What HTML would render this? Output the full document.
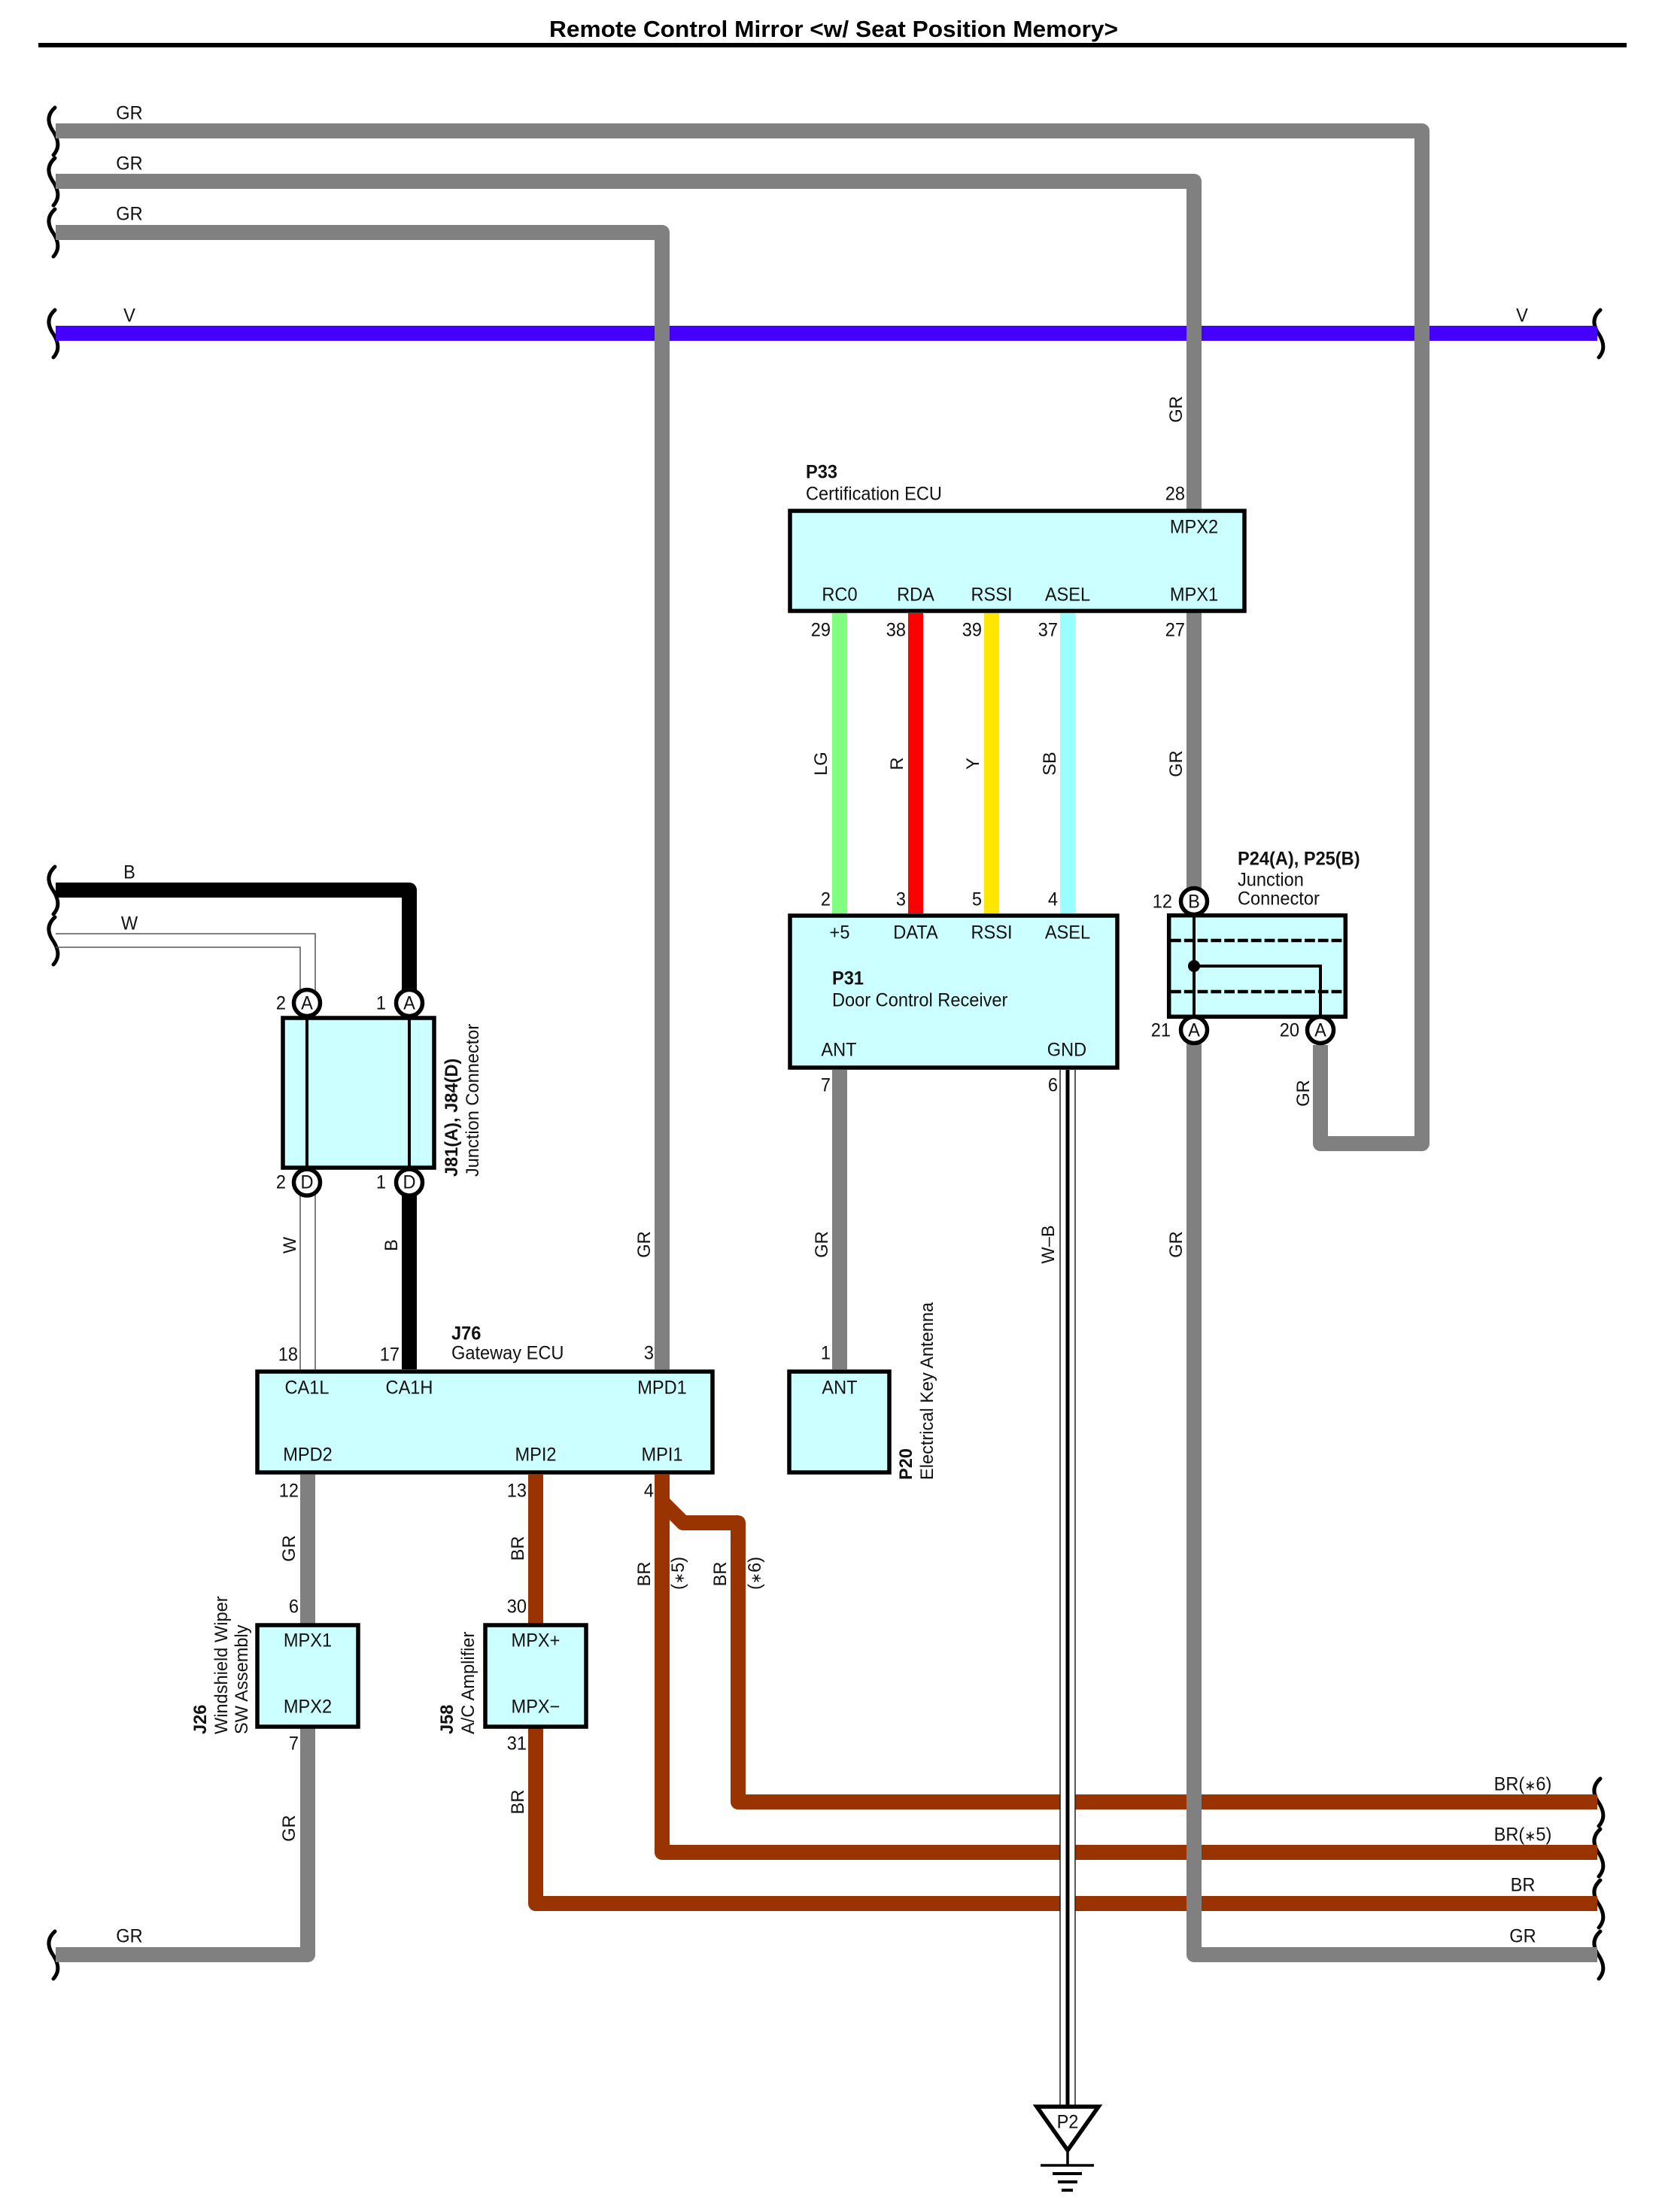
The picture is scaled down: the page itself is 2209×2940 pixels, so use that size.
<!DOCTYPE html>
<html><head><meta charset="utf-8"><title>Remote Control Mirror</title>
<style>
html,body{margin:0;padding:0;background:#fff}
svg{display:block}
text{font-family:"Liberation Sans",sans-serif;font-size:23.6px;fill:#111}
text:not([transform]):not(.t){transform-box:fill-box;transform-origin:center;transform:translateY(-1px) scaleY(1.05)}
.t{font-size:31px;font-weight:bold;fill:#000}
.b{font-weight:bold}
.m{text-anchor:middle}
.e{text-anchor:end}
.w{fill:none;stroke-width:20;stroke-linejoin:round}
.gr{stroke:#808080}
.br{stroke:#993300}
.box{fill:#ccffff;stroke:#000;stroke-width:5.5;stroke-linejoin:miter}
.c{fill:#fff;stroke:#000;stroke-width:5.5}
.s{fill:none;stroke:#000;stroke-width:5;stroke-linecap:round}
</style></head><body>
<svg xmlns="http://www.w3.org/2000/svg" width="2209" height="2940" viewBox="0 0 2209 2940">
<defs><path id="sq" class="s" d="M3,-31 C-7,-22 -7,-12 -1,-2 C6,8 9,18 5,26 C4,28 3,30 1,32"/></defs>
<rect width="2209" height="2940" fill="#fff"/>

<text x="730" y="49" class="t" textLength="756" lengthAdjust="spacingAndGlyphs">Remote Control Mirror &lt;w/ Seat Position Memory&gt;</text>
<rect x="51" y="57" width="2111" height="6" fill="#000"/>

<!-- squiggles -->
<use href="#sq" x="70" y="174"/><use href="#sq" x="70" y="241"/><use href="#sq" x="70" y="309"/><use href="#sq" x="70" y="443"/>
<use href="#sq" x="70" y="1183"/><use href="#sq" x="70" y="1250"/><use href="#sq" x="70" y="2598"/>
<use href="#sq" x="2124" y="443"/><use href="#sq" x="2124" y="2395"/><use href="#sq" x="2124" y="2462"/><use href="#sq" x="2124" y="2530"/><use href="#sq" x="2124" y="2598"/>

<!-- wires -->
<path class="w" stroke="#4400ff" d="M74,443H2123"/>
<path class="w br" d="M712,1960V2530H2123"/>
<path class="w br" d="M880,1960V2462H2123"/>
<path class="w br" d="M880,1996L908,2024H981V2395H2123"/>
<path class="w gr" d="M74,174H1890V1520H1755V1389"/>
<path class="w gr" d="M74,241H1587V2598H2123"/>
<path class="w gr" d="M74,309H880V1820"/>
<path class="w gr" d="M74,2598H409V1960"/>
<path class="w" stroke="#000" d="M74,1183H544V1820"/>
<path class="w" stroke="#80ff80" d="M1116,815V1214"/>
<path class="w" stroke="#ff0000" d="M1217,815V1214"/>
<path class="w" stroke="#ffe600" d="M1318,815V1214"/>
<path class="w" stroke="#99ffff" d="M1419,815V1214"/>
<path class="w gr" d="M1116,1422V1820"/>
<!-- W wires -->
<path fill="none" stroke="#555" stroke-width="1.5" d="M74,1241H419V1320M74,1259H399V1320M399,1585V1820M419,1585V1820"/>
<!-- W-B -->
<rect x="1409" y="1422" width="20" height="1378" fill="#fff"/>
<path fill="none" stroke="#222" stroke-width="1.5" d="M1409,1422V2800M1429,1422V2800"/>
<rect x="1416.5" y="1422" width="5" height="1378" fill="#000"/>

<!-- boxes -->
<rect class="box" x="1050" y="679" width="604" height="133"/>
<rect class="box" x="1050" y="1217" width="435" height="202"/>
<rect class="box" x="1553.7" y="1216.7" width="234.6" height="134.6"/>
<rect class="box" x="376" y="1353" width="201" height="199"/>
<rect class="box" x="342" y="1823" width="605" height="134"/>
<rect class="box" x="1049" y="1823" width="133" height="134"/>
<rect class="box" x="342" y="2160" width="134" height="135"/>
<rect class="box" x="645" y="2160" width="134" height="135"/>

<!-- junction internals -->
<path stroke="#000" stroke-width="4" fill="none" d="M408,1353V1552M544,1353V1552"/>
<path stroke="#000" stroke-width="4" fill="none" d="M1587,1217V1351M1587,1284H1755V1351"/>
<path stroke="#000" stroke-width="4.5" fill="none" stroke-dasharray="13.8 4" d="M1556,1250H1786M1556,1318H1786"/>
<circle cx="1587" cy="1284" r="8" fill="#000"/>

<!-- connector circles -->
<circle class="c" cx="408" cy="1333" r="17.5"/><circle class="c" cx="544" cy="1333" r="17.5"/>
<circle class="c" cx="408" cy="1571.5" r="17.5"/><circle class="c" cx="544" cy="1571.5" r="17.5"/>
<circle class="c" cx="1587" cy="1198" r="17.5"/><circle class="c" cx="1587" cy="1369" r="17.5"/><circle class="c" cx="1755" cy="1369" r="17.5"/>
<text x="408" y="1342" class="m">A</text><text x="544" y="1342" class="m">A</text>
<text x="408" y="1580" class="m">D</text><text x="544" y="1580" class="m">D</text>
<text x="1587" y="1207" class="m">B</text><text x="1587" y="1378" class="m">A</text><text x="1755" y="1378" class="m">A</text>

<!-- ground -->
<path d="M1378,2800H1460L1419,2858Z" fill="#fff" stroke="#000" stroke-width="5.5" stroke-linejoin="miter"/>
<path stroke="#000" stroke-width="3.5" fill="none" d="M1419,2858V2878M1383,2878H1454"/>
<path stroke="#000" stroke-width="4" fill="none" d="M1399,2889H1438M1406,2900H1432M1411,2911H1426"/>
<text x="1419" y="2829" class="m">P2</text>

<!-- horizontal wire labels -->
<text x="172" y="159" class="m">GR</text><text x="172" y="226" class="m">GR</text><text x="172" y="293" class="m">GR</text>
<text x="172" y="428" class="m">V</text><text x="2023" y="428" class="m">V</text>
<text x="172" y="1168" class="m">B</text><text x="172" y="1236" class="m">W</text>
<text x="172" y="2582" class="m">GR</text>
<text x="2024" y="2380" class="m">BR(<tspan style="font-size:18px">∗</tspan>6)</text><text x="2024" y="2447" class="m">BR(<tspan style="font-size:18px">∗</tspan>5)</text><text x="2024" y="2514" class="m">BR</text><text x="2024" y="2582" class="m">GR</text>

<!-- P33 -->
<text x="1071" y="636" class="b">P33</text><text x="1071" y="665">Certification ECU</text>
<text x="1575" y="665" class="e">28</text>
<text x="1587" y="709" class="m">MPX2</text>
<text x="1116" y="799" class="m">RC0</text><text x="1217" y="799" class="m">RDA</text><text x="1318" y="799" class="m">RSSI</text><text x="1419" y="799" class="m">ASEL</text><text x="1587" y="799" class="m">MPX1</text>
<text x="1104" y="846" class="e">29</text><text x="1204" y="846" class="e">38</text><text x="1305" y="846" class="e">39</text><text x="1406" y="846" class="e">37</text><text x="1575" y="846" class="e">27</text>

<!-- P31 -->
<text x="1104" y="1204" class="e">2</text><text x="1204" y="1204" class="e">3</text><text x="1305" y="1204" class="e">5</text><text x="1406" y="1204" class="e">4</text>
<text x="1116" y="1248" class="m">+5</text><text x="1217" y="1248" class="m">DATA</text><text x="1318" y="1248" class="m">RSSI</text><text x="1419" y="1248" class="m">ASEL</text>
<text x="1106" y="1309" class="b">P31</text><text x="1106" y="1338">Door Control Receiver</text>
<text x="1115" y="1404" class="m">ANT</text><text x="1418" y="1404" class="m">GND</text>
<text x="1104" y="1451" class="e">7</text><text x="1406" y="1451" class="e">6</text>

<!-- P24 -->
<text x="1645" y="1150" class="b">P24(A), P25(B)</text><text x="1645" y="1178">Junction</text><text x="1645" y="1203">Connector</text>
<text x="1558" y="1207" class="e">12</text><text x="1556" y="1378" class="e">21</text><text x="1727" y="1378" class="e">20</text>

<!-- J81 -->
<text x="380" y="1342" class="e">2</text><text x="513" y="1342" class="e">1</text>
<text x="380" y="1580" class="e">2</text><text x="513" y="1580" class="e">1</text>
<text transform="translate(608,1564) rotate(-90)" class="b">J81(A), J84(D)</text>
<text transform="translate(636,1564) rotate(-90)">Junction Connector</text>

<!-- J76 -->
<text x="600" y="1781" class="b">J76</text><text x="600" y="1807">Gateway ECU</text>
<text x="396" y="1809" class="e">18</text><text x="531" y="1809" class="e">17</text><text x="869" y="1807" class="e">3</text><text x="1104" y="1807" class="e">1</text>
<text x="408" y="1853" class="m">CA1L</text><text x="544" y="1853" class="m">CA1H</text><text x="880" y="1853" class="m">MPD1</text><text x="1116" y="1853" class="m">ANT</text>
<text x="409" y="1942" class="m">MPD2</text><text x="712" y="1942" class="m">MPI2</text><text x="880" y="1942" class="m">MPI1</text>
<text x="397" y="1990" class="e">12</text><text x="700" y="1990" class="e">13</text><text x="869" y="1990" class="e">4</text>

<!-- J26 / J58 -->
<text x="397" y="2144" class="e">6</text><text x="700" y="2144" class="e">30</text>
<text x="409" y="2189" class="m">MPX1</text><text x="712" y="2189" class="m">MPX+</text>
<text x="409" y="2277" class="m">MPX2</text><text x="712" y="2277" class="m">MPX−</text>
<text x="397" y="2326" class="e">7</text><text x="700" y="2326" class="e">31</text>
<text transform="translate(274,2305) rotate(-90)" class="b">J26</text>
<text transform="translate(302,2305) rotate(-90)">Windshield Wiper</text>
<text transform="translate(329,2305) rotate(-90)">SW Assembly</text>
<text transform="translate(602,2305) rotate(-90)" class="b">J58</text>
<text transform="translate(630,2305) rotate(-90)">A/C Amplifier</text>
<text transform="translate(1212,1967) rotate(-90)" class="b">P20</text>
<text transform="translate(1240,1967) rotate(-90)">Electrical Key Antenna</text>

<!-- vertical wire labels -->
<text transform="translate(1571,544) rotate(-90)" class="m">GR</text>
<text transform="translate(1099,1015) rotate(-90)" class="m">LG</text>
<text transform="translate(1200,1015) rotate(-90)" class="m">R</text>
<text transform="translate(1301,1015) rotate(-90)" class="m">Y</text>
<text transform="translate(1403,1015) rotate(-90)" class="m">SB</text>
<text transform="translate(1571,1015) rotate(-90)" class="m">GR</text>
<text transform="translate(1740,1453) rotate(-90)" class="m">GR</text>
<text transform="translate(393,1655) rotate(-90)" class="m">W</text>
<text transform="translate(528,1655) rotate(-90)" class="m">B</text>
<text transform="translate(864,1654) rotate(-90)" class="m">GR</text>
<text transform="translate(1100,1654) rotate(-90)" class="m">GR</text>
<text transform="translate(1401,1654) rotate(-90)" class="m">W–B</text>
<text transform="translate(1571,1654) rotate(-90)" class="m">GR</text>
<text transform="translate(392,2058) rotate(-90)" class="m">GR</text>
<text transform="translate(696,2058) rotate(-90)" class="m">BR</text>
<text transform="translate(864,2092) rotate(-90)" class="m">BR</text>
<text transform="translate(909,2091) rotate(-90)" class="m">(<tspan style="font-size:18px">∗</tspan>5)</text>
<text transform="translate(965,2092) rotate(-90)" class="m">BR</text>
<text transform="translate(1011,2091) rotate(-90)" class="m">(<tspan style="font-size:18px">∗</tspan>6)</text>
<text transform="translate(392,2430) rotate(-90)" class="m">GR</text>
<text transform="translate(696,2395) rotate(-90)" class="m">BR</text>
</svg>
</body></html>
